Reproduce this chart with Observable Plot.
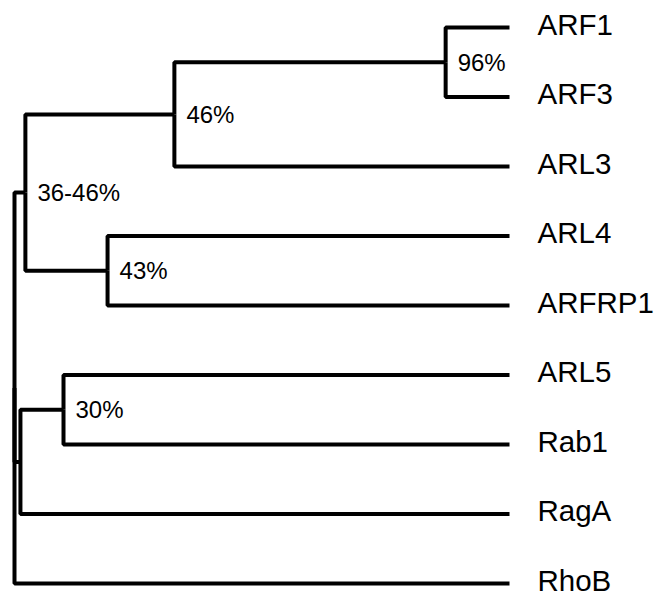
<!DOCTYPE html>
<html>
<head>
<meta charset="utf-8">
<script src="https://cdn.jsdelivr.net/npm/d3@7"></script>
<script src="https://cdn.jsdelivr.net/npm/@observablehq/plot@0.6"></script>
<style>
  html, body { margin: 0; padding: 0; background: #fff; }
  #chart svg { display: block; overflow: visible; }
</style>
</head>
<body>
<div id="chart"></div>
<script>
// Leaves (top to bottom) and the node each one hangs from
const leaves = ["ARF1", "ARF3", "ARL3", "ARL4", "ARFRP1", "ARL5", "Rab1", "RagA", "RhoB"];
const leafParents = ["n96", "n96", "n46", "n43", "n43", "n30", "n30", "nClade", "root"];
const leafDepth = 100;

// Internal nodes: id, parent, branching depth (0 = root, 100 = tips), support label
const nodeIds = ["root", "n3646", "n46", "n96", "n43", "nClade", "n30"];
const nodeParents = [null, "root", "n3646", "n46", "n3646", "root", "nClade"];
const nodeDepths = [0, 2.2, 32.3, 87.1, 18.8, 1.2, 9.9];
const nodeSupport = ["", "36-46%", "46%", "96%", "43%", "", "30%"];

// Build node table
const nodes = new Map();
nodeIds.forEach((id, i) => nodes.set(id, {id, parent: nodeParents[i], depth: nodeDepths[i], label: nodeSupport[i], leaf: false, children: []}));
leaves.forEach((name, i) => nodes.set(name, {id: name, parent: leafParents[i], depth: leafDepth, label: name, leaf: true, order: i, children: []}));
for (const n of nodes.values()) if (n.parent) nodes.get(n.parent).children.push(n);
function setY(n) {
  if (n.leaf) { n.y = n.order; return n.y; }
  const ys = n.children.map(setY);
  n.y = (d3.min(ys) + d3.max(ys)) / 2;
  return n.y;
}
setY(nodes.get("root"));

const links = [...nodes.values()].filter(n => n.parent).map(n => {
  const p = nodes.get(n.parent);
  return {x1: p.depth, y1: p.y, x2: n.depth, y2: n.y};
});
const tips = [...nodes.values()].filter(n => n.leaf);
const supports = [...nodes.values()].filter(n => !n.leaf && n.label);

const font = "Liberation Sans, Arial, Helvetica, sans-serif";

const chart = Plot.plot({
  width: 659,
  height: 593,
  marginLeft: 14,
  marginRight: 150,
  marginTop: 27,
  marginBottom: 10,
  style: {fontFamily: font, background: "#fff"},
  x: {axis: null, domain: [0, 100]},
  y: {axis: null, domain: [0, leaves.length - 1], reverse: true},
  marks: [
    Plot.link(links, {x1: "x1", y1: "y1", x2: "x2", y2: "y2", curve: "step-before", stroke: "#000", strokeWidth: 4, strokeLinejoin: "miter"}),
    Plot.text(tips, {x: "depth", y: "y", text: "label", textAnchor: "start", dx: 28, dy: -2, fontSize: 29.5, fill: "#000", fontFamily: font}),
    Plot.text(supports, {x: "depth", y: "y", text: "label", textAnchor: "start", dx: 12, dy: 1, fontSize: 24, fill: "#000", fontFamily: font})
  ]
});
document.getElementById("chart").appendChild(chart);
</script>
</body>
</html>
